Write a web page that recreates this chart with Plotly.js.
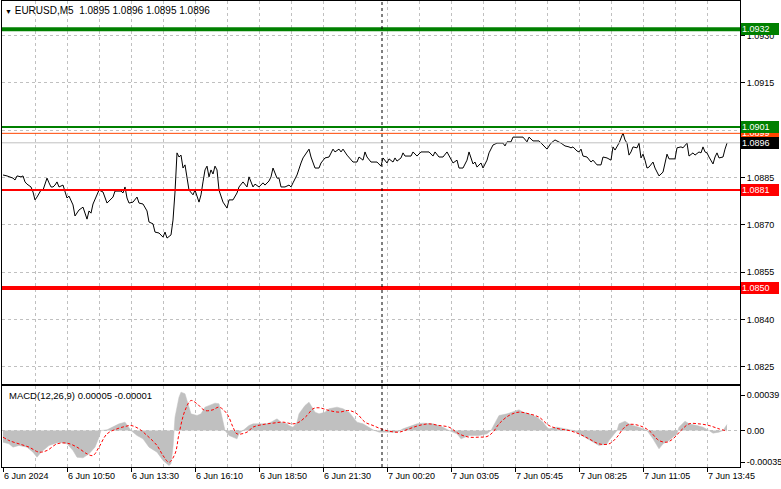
<!DOCTYPE html>
<html>
<head>
<meta charset="utf-8">
<script src="https://cdn.plot.ly/plotly-3.0.1.min.js"></script>
<style>html,body{margin:0;padding:0;background:#fff;}#chart{width:781px;height:489px;}</style>
</head>
<body>
<div id="chart"></div>
<script>
// ---------- DATA ----------
const symbolTitle = "EURUSD,M5  1.0895 1.0896 1.0895 1.0896";
const macdTitle = "MACD(12,26,9) 0.00005 -0.00001";

// bar index (M5 bars) and close price
const priceBars = [0,2,5,6,7,9,10,11,12,14,15,16,17,19,20,22,23,24,25,26,27,28,30,31,32,33,35,36,38,40,41,42,43,44,45,47,48,50,51,52,55,56,59,60,61,62,63,65,67,68,70,72,73,75,76,78,80,81,82,84,85,86,87,88,89,90,91,92,93,95,96,98,99,100,101,102,103,104,105,106,107,108,110,112,113,115,116,117,118,120,122,123,125,126,128,130,131,133,134,135,137,138,139,141,143,144,145,147,149,150,153,154,156,158,159,161,163,165,166,168,169,170,172,175,177,178,180,181,182,184,187,189,190,192,193,195,196,197,199,200,201,204,205,207,209,213,215,216,218,220,222,224,225,227,228,230,232,233,235,236,237,239,240,242,243,245,247,250,251,252,254,255,260,262,263,265,268,270,272,274,276,279,281,283,284,285,287,288,289,290,292,294,295,297,299,300,302,304,305,306,308,310,311,312,313,314,315,317,318,319,320,321,322,323,325,326,328,330,331,332,333,336,337,339,340,342,343,345,346,348,349,350,351,352,353,355,356,357,358,360,361,362];
const priceClose = [1.08858,1.08855,1.08848,1.08842,1.08855,1.08852,1.08855,1.08836,1.08829,1.08820,1.08804,1.08779,1.08788,1.08810,1.08810,1.08848,1.08833,1.08820,1.08820,1.08826,1.08836,1.08820,1.08826,1.08804,1.08785,1.08791,1.08763,1.08728,1.08747,1.08756,1.08737,1.08718,1.08744,1.08737,1.08766,1.08795,1.08810,1.08804,1.08788,1.08769,1.08788,1.08807,1.08807,1.08801,1.08820,1.08785,1.08769,1.08772,1.08788,1.08769,1.08766,1.08744,1.08709,1.08703,1.08677,1.08674,1.08661,1.08677,1.08658,1.08668,1.08715,1.08804,1.08928,1.08915,1.08921,1.08880,1.08890,1.08852,1.08810,1.08795,1.08810,1.08772,1.08795,1.08836,1.08874,1.08886,1.08852,1.08874,1.08861,1.08886,1.08874,1.08810,1.08772,1.08753,1.08779,1.08779,1.08788,1.08801,1.08820,1.08836,1.08820,1.08852,1.08820,1.08829,1.08820,1.08833,1.08826,1.08839,1.08852,1.08880,1.08848,1.08848,1.08820,1.08820,1.08826,1.08820,1.08833,1.08858,1.08896,1.08912,1.08940,1.08915,1.08880,1.08880,1.08896,1.08912,1.08915,1.08940,1.08931,1.08940,1.08931,1.08940,1.08921,1.08899,1.08899,1.08915,1.08905,1.08931,1.08915,1.08899,1.08899,1.08886,1.08912,1.08896,1.08909,1.08899,1.08912,1.08902,1.08912,1.08928,1.08918,1.08918,1.08931,1.08918,1.08931,1.08931,1.08918,1.08931,1.08915,1.08915,1.08931,1.08905,1.08896,1.08905,1.08880,1.08880,1.08905,1.08931,1.08893,1.08899,1.08883,1.08896,1.08880,1.08905,1.08928,1.08953,1.08959,1.08959,1.08950,1.08963,1.08963,1.08978,1.08978,1.08963,1.08978,1.08966,1.08966,1.08953,1.08940,1.08959,1.08969,1.08959,1.08950,1.08947,1.08944,1.08947,1.08934,1.08931,1.08940,1.08918,1.08915,1.08899,1.08905,1.08890,1.08890,1.08915,1.08912,1.08905,1.08947,1.08937,1.08959,1.08991,1.08969,1.08959,1.08921,1.08931,1.08947,1.08944,1.08959,1.08912,1.08924,1.08905,1.08880,1.08883,1.08899,1.08880,1.08855,1.08867,1.08899,1.08924,1.08909,1.08909,1.08944,1.08947,1.08944,1.08959,1.08918,1.08928,1.08921,1.08931,1.08928,1.08947,1.08931,1.08928,1.08915,1.08893,1.08915,1.08928,1.08912,1.08915,1.08940,1.08959];

// MACD histogram (main line) and signal line
const histBars = [0,3,5,8,12,15,17,19,23,28,32,35,37,40,43,46,48,49,52,55,58,61,63,64,67,70,73,77,80,83,84,85,86,88,89,91,93,94,97,99,101,103,106,108,109,110,111,113,115,117,118,120,123,125,128,132,134,137,139,142,143,145,147,148,151,153,154,156,158,161,163,167,170,173,175,177,180,183,185,188,190,193,197,200,203,207,210,215,220,223,227,229,231,233,238,242,244,246,248,252,255,258,260,263,267,270,272,273,277,282,285,288,292,295,298,302,303,305,307,308,311,313,315,318,322,325,328,330,333,337,338,341,343,347,350,353,355,358,360,362];
const histValues = [-0.000128,-0.000147,-0.000183,-0.000165,-0.000183,-0.000238,-0.000294,-0.000238,-0.000165,-0.000128,-0.000147,-0.00022,-0.000294,-0.000301,-0.000257,-0.000183,-0.000073,0,0.000007,0.000037,0.000073,0.000092,0.000037,0,-0.000055,-0.000092,-0.000183,-0.000238,-0.00033,-0.000385,-0.000367,-0.000183,0.000147,0.000367,0.000422,0.000404,0.000257,0.000183,0.000165,0.000183,0.000257,0.000275,0.000301,0.000294,0.000183,0.000073,0,-0.000055,-0.000073,-0.000092,-0.000037,0,0.000055,0.000073,0.000073,0.000073,0.000092,0.000128,0.000092,0.000073,0.000055,0.000037,0.000092,0.000183,0.000275,0.000312,0.000275,0.000202,0.000183,0.000202,0.000239,0.000257,0.000239,0.000202,0.000147,0.000092,0.000073,0.000037,0.000007,-0.000018,-0.000018,-0.000018,-0.000018,0.000018,0.000044,0.000073,0.000081,0.000073,0.000037,0,-0.000037,-0.000092,-0.000073,-0.000055,-0.000055,-0.000037,0,0.000092,0.000165,0.000183,0.000209,0.000228,0.000202,0.000183,0.000147,0.000092,0.000037,0.000018,0.000037,0.000018,0,-0.000037,-0.000092,-0.000128,-0.000165,-0.000147,-0.00011,-0.000055,0,0.000073,0.000103,0.000073,0.000055,0.000037,0,-0.000092,-0.000202,-0.000147,-0.00011,-0.000037,0.000037,0.000103,0.000073,0.000055,0.000037,0,-0.000029,-0.000018,0,0.000066];
const signalBars = [0,3,8,13,18,22,27,32,37,42,45,48,52,57,61,64,68,72,77,80,83,86,88,91,94,97,101,105,108,112,115,117,122,125,130,135,140,145,148,152,155,158,163,168,173,177,181,185,189,193,198,203,208,213,218,223,228,233,238,242,245,248,253,258,263,268,273,278,283,288,293,298,303,307,310,313,318,323,328,332,335,339,343,348,353,358,362];
const signalValues = [-0.000073,-0.00011,-0.000147,-0.000183,-0.000238,-0.00022,-0.000147,-0.000139,-0.000183,-0.000257,-0.000275,-0.000183,-0.000037,0.000018,0.000044,0.000055,0.000018,-0.000055,-0.000165,-0.000275,-0.000349,-0.000257,-0.000037,0.00022,0.00033,0.000294,0.00022,0.000228,0.000257,0.000183,0.000037,-0.000037,-0.000018,0.000037,0.000066,0.000081,0.000092,0.000073,0.000092,0.000165,0.000239,0.00025,0.00022,0.000202,0.00022,0.000183,0.000092,0.000055,0.000018,-0.000007,-0.000018,0.000018,0.000055,0.000073,0.000055,0.000037,-0.000037,-0.000073,-0.000073,-0.000066,-0.000018,0.000073,0.000165,0.000202,0.000183,0.000147,0.000055,0.000018,0,-0.000037,-0.000092,-0.000147,-0.000147,-0.000073,0.000018,0.000066,0.000055,0,-0.00011,-0.000128,-0.000092,0,0.000073,0.000073,0.000055,0.000018,-0.000007];

// time axis labels (bar index of each label)
const timeTickBars = [0,32,64,96,128,160,192,224,256,288,320,352];
const timeTickLabels = ["6 Jun 2024","6 Jun 10:50","6 Jun 13:30","6 Jun 16:10","6 Jun 18:50","6 Jun 21:30","7 Jun 00:20","7 Jun 03:05","7 Jun 05:45","7 Jun 08:25","7 Jun 11:05","7 Jun 13:45"];

// price axis labels (1.0900 is hidden behind the level tags in the original)
const priceTicks = [1.0825,1.0840,1.0855,1.0870,1.0885,1.0900,1.0915,1.0930];
const priceTickLabels = ["1.0825","1.0840","1.0855","1.0870","1.0885","","1.0915","1.0930"];

// macd axis labels
const macdTicks = [0.00039,0,-0.00035];
const macdTickLabels = ["0.00039","0.00","-0.00035"];

// horizontal price levels and tags
const levelPrices = [1.0932,1.0901,1.0899,1.0896,1.0881,1.0850];
const levelLabels = ["1.0932","1.0901","1.0899","1.0896","1.0881","1.0850"];
const daySeparatorBar = 189.5;

// ---------- STYLES ----------
const levelStyle = [
  {color:"#008000", width:4, tag:"#008000"},
  {color:"#008000", width:2, tag:"#008000"},
  {color:"#ff4500", width:1, tag:"#ff4500"},
  {color:"#c0c0c0", width:1, tag:"#000000"},
  {color:"#ff0000", width:2, tag:"#ff0000"},
  {color:"#ff0000", width:4, tag:"#ff0000"}
];
const FONT = "Liberation Sans, Arial, sans-serif";
const GRID = "#c0c0c0";
const DASH = "3px,3px";
const AXFONT = {family:FONT, size:9, color:"#000000"};

const minorGrid = [];
for (let b = 16; b < 368; b += 32) minorGrid.push(b);

const traces = [
  {x: histBars, y: histValues, xaxis:"x2", yaxis:"y2", type:"scatter", mode:"lines",
   fill:"tozeroy", fillcolor:"#c0c0c0", line:{color:"#c0c0c0", width:0.5}, hoverinfo:"skip"},
  {x: signalBars, y: signalValues, xaxis:"x2", yaxis:"y2", type:"scatter", mode:"lines",
   line:{color:"#ff0000", width:1, dash:"3px,2px", shape:"spline"}, hoverinfo:"skip"},
  {x: priceBars, y: priceClose, xaxis:"x", yaxis:"y", type:"scatter", mode:"lines",
   line:{color:"#000000", width:1}, hoverinfo:"skip"}
];

const shapes = [];
const order = [3,2,1,0,4,5];
order.forEach(i => {
  shapes.push({type:"line", xref:"paper", yref:"y", x0:0, x1:1, y0:levelPrices[i], y1:levelPrices[i],
    line:{color:levelStyle[i].color, width:levelStyle[i].width}, layer:"above"});
});
shapes.push({type:"line", xref:"paper", yref:"y2", x0:0, x1:1, y0:0, y1:0,
  line:{color:GRID, width:1, dash:DASH}, layer:"below"});
shapes.push({type:"line", xref:"x", yref:"paper", x0:daySeparatorBar, x1:daySeparatorBar, y0:0, y1:1,
  line:{color:"#000000", width:1, dash:DASH}, layer:"above"});

const annotations = [];
const tagOrder = [2,0,1,3,4,5];
tagOrder.forEach(i => {
  annotations.push({xref:"paper", yref:"y", x:1, y:levelPrices[i], xanchor:"left", yanchor:"middle",
    xshift:1, text:levelLabels[i], showarrow:false, bgcolor:levelStyle[i].tag,
    font:{family:FONT, size:9, color:"#ffffff"}, width:36, height:10, align:"left",
    borderpad:1, borderwidth:0});
});
annotations.push({xref:"paper", yref:"paper", x:0.0068, y:0.1524, xanchor:"left", yanchor:"middle",
  text:macdTitle, showarrow:false, font:{family:FONT, size:9.5, color:"#000000"}});

const layout = {
  width:781, height:489,
  margin:{l:2, r:41, t:1, b:22, pad:0},
  paper_bgcolor:"#ffffff", plot_bgcolor:"#ffffff",
  showlegend:false,
  title:{text:'<span style="font-size:7px">▼</span> ' + symbolTitle, x:5/781, xanchor:"left", xref:"container",
    y:1-10/489, yanchor:"middle", yref:"container", font:{family:FONT, size:10, color:"#000000"}},
  xaxis:{domain:[0,1], range:[-0.5,368.5], anchor:"y", showticklabels:false,
    tickmode:"array", tickvals:timeTickBars, ticks:"",
    showgrid:true, gridcolor:GRID, griddash:DASH, gridwidth:1,
    minor:{tickvals:minorGrid, showgrid:true, gridcolor:GRID, griddash:DASH, ticks:""},
    showline:true, mirror:true, linecolor:"#000000", linewidth:1, zeroline:false},
  xaxis2:{domain:[0,1], range:[-0.5,368.5], anchor:"y2", matches:"x",
    tickmode:"array", tickvals:timeTickBars, ticktext:timeTickLabels,
    ticks:"outside", ticklen:4, tickcolor:"#000000", ticklabelposition:"outside right",
    tickfont:AXFONT,
    showgrid:true, gridcolor:GRID, griddash:DASH, gridwidth:1,
    minor:{tickvals:minorGrid, showgrid:true, gridcolor:GRID, griddash:DASH, ticks:""},
    showline:true, mirror:true, linecolor:"#000000", linewidth:1, zeroline:false},
  yaxis:{domain:[0.17811,1], range:[1.08195395,1.09409505], side:"right", anchor:"x",
    tickmode:"array", tickvals:priceTicks, ticktext:priceTickLabels,
    ticks:"outside", ticklen:4, tickcolor:"#000000",
    tickfont:AXFONT,
    showgrid:true, gridcolor:GRID, griddash:DASH, gridwidth:1,
    showline:true, mirror:true, linecolor:"#000000", linewidth:1, zeroline:false},
  yaxis2:{domain:[0,0.17382], range:[-0.0004015,0.0004895], side:"right", anchor:"x2",
    tickmode:"array", tickvals:macdTicks, ticktext:macdTickLabels,
    ticks:"outside", ticklen:4, tickcolor:"#000000",
    tickfont:AXFONT,
    showgrid:false, showline:true, mirror:true, linecolor:"#000000", linewidth:1, zeroline:false},
  shapes:shapes,
  annotations:annotations
};

Plotly.newPlot("chart", traces, layout, {displayModeBar:false, staticPlot:true});
</script>
</body>
</html>
